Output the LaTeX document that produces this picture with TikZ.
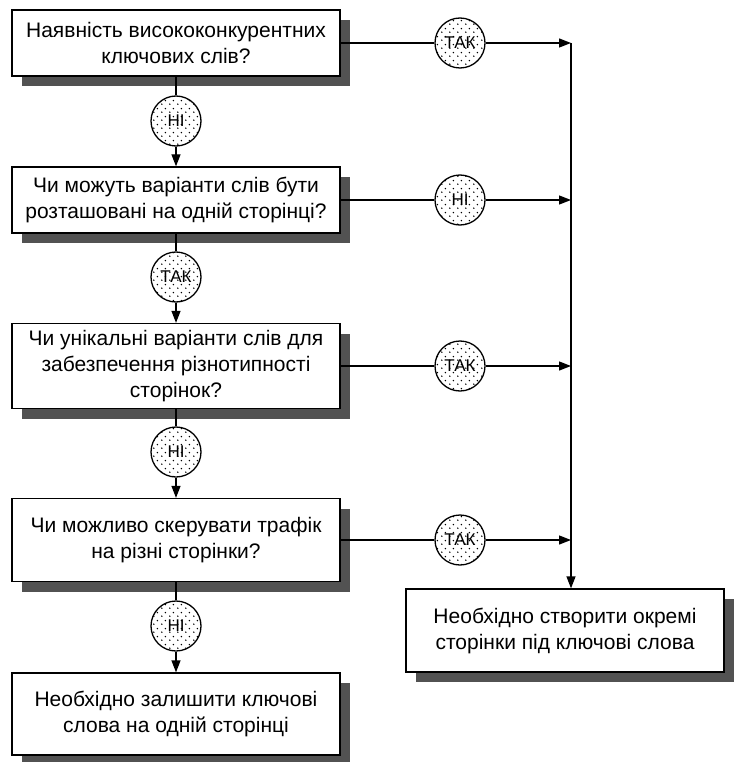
\documentclass[tikz,border=0pt]{standalone}
\usepackage{fontspec}
\setmainfont{Liberation Sans}
\usetikzlibrary{arrows.meta,shadows,patterns}
\pgfdeclarepatternformonly{sparsedots}{\pgfpoint{0pt}{0pt}}{\pgfpoint{8pt}{8pt}}{\pgfpoint{8pt}{8pt}}{%
  \pgfpathcircle{\pgfpoint{2pt}{2pt}}{0.85pt}\pgfusepath{fill}%
  \pgfpathcircle{\pgfpoint{6pt}{6pt}}{0.85pt}\pgfusepath{fill}%
}
\begin{document}
\begin{tikzpicture}[x=1pt,y=-1pt,
  box/.style={draw, line width=1.3pt, fill=white, align=center, inner sep=0pt,
    font=\fontsize{21}{26}\selectfont,
    drop shadow={shadow xshift=10pt, shadow yshift=-10pt, fill=black!68, opacity=1}},
  circ/.style={circle, draw, line width=1.3pt, minimum size=50pt, inner sep=0pt,
    preaction={fill=white}, pattern=sparsedots, font=\fontsize{17}{20}\selectfont},
  link/.style={line width=1.3pt},
  arr/.style={line width=1.3pt, -{Triangle[length=12pt,width=9pt]}}
]
\useasboundingbox (0,0) rectangle (734,762);

\node[box, minimum width=328pt, minimum height=66pt] (b1) at (176,43)
  {Наявність висококонкурентних\\ключових слів?};
\node[box, minimum width=328pt, minimum height=66pt] (b2) at (176,200)
  {Чи можуть варіанти слів бути\\розташовані на одній сторінці?};
\node[box, minimum width=328pt, minimum height=85pt] (b3) at (176,366)
  {Чи унікальні варіанти слів для\\забезпечення різнотипності\\сторінок?};
\node[box, minimum width=328pt, minimum height=83pt] (b4) at (176,540)
  {Чи можливо скерувати трафік\\на різні сторінки?};
\node[box, minimum width=328pt, minimum height=82pt] (b5) at (176,714)
  {Необхідно залишити ключові\\слова на одній сторінці};
\node[box, minimum width=318pt, minimum height=83pt] (rb) at (565,630.5)
  {Необхідно створити окремі\\сторінки під ключові слова};

\node[circ] (c1) at (176,121) {НІ};
\node[circ] (c2) at (176,277) {ТАК};
\node[circ] (c3) at (176,452) {НІ};
\node[circ] (c4) at (176,626) {НІ};

\node[circ] (r1) at (460,43) {ТАК};
\node[circ] (r2) at (460,200) {НІ};
\node[circ] (r3) at (460,366) {ТАК};
\node[circ] (r4) at (460,540) {ТАК};

\coordinate (j1) at (571,43);
\coordinate (j2) at (571,200);
\coordinate (j3) at (571,366);
\coordinate (j4) at (571,540);

\draw[link] (b1) -- (c1);
\draw[arr] (c1) -- (b2);
\draw[link] (b2) -- (c2);
\draw[arr] (c2) -- (b3);
\draw[link] (b3) -- (c3);
\draw[arr] (c3) -- (b4);
\draw[link] (b4) -- (c4);
\draw[arr] (c4) -- (b5);

\draw[link] (b1) -- (r1);
\draw[arr] (r1) -- (j1);
\draw[link] (b2) -- (r2);
\draw[arr] (r2) -- (j2);
\draw[link] (b3) -- (r3);
\draw[arr] (r3) -- (j3);
\draw[link] (b4) -- (r4);
\draw[arr] (r4) -- (j4);

\draw[arr] (j1) -- (j1 |- rb.north);
\end{tikzpicture}
\end{document}
